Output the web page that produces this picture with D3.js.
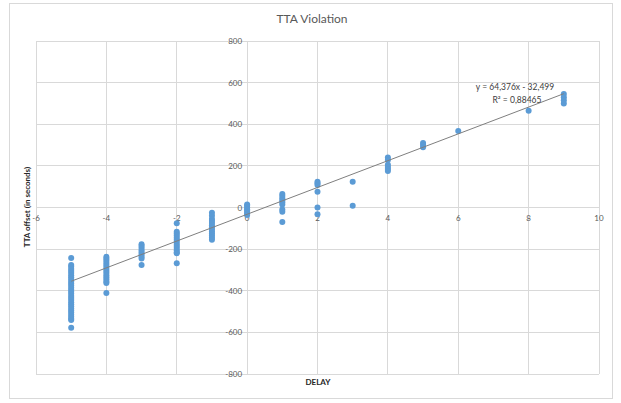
<!DOCTYPE html>
<html>
<head>
	<meta charset="utf-8">
	<title>TTA Violation</title>
	<style>
		body { margin: 0; background: #fff; }
		svg { font-family: Lato, "Open Sans", sans-serif; }
		.grid line { stroke: #d9d9d9; stroke-width: 1; shape-rendering: crispEdges; }
		.tick-label { font-size: 8px; fill: #595959; }
	</style>
</head>
<body>
<div id="chart"></div>
<script src="https://d3js.org/d3.v7.min.js"></script>
<script>
	// Data: one column of offsets per delay value
	var delays = [-5, -4, -3, -2, -1, 0, 1, 2, 3, 4, 5, 6, 8, 9];
	var offsets = [
		[-243, -276, -285, -295, -305, -315, -325, -335, -345, -355, -365, -375, -385, -395, -405, -415, -425, -435, -445, -455, -465, -475, -485, -495, -505, -515, -525, -535, -541, -578],
		[-237, -245, -255, -265, -275, -285, -295, -305, -315, -325, -335, -345, -355, -363, -411],
		[-177, -185, -195, -205, -215, -225, -235, -245, -276],
		[-76, -116, -125, -135, -145, -155, -165, -175, -185, -195, -205, -215, -220, -268],
		[-25, -40, -55, -65, -75, -85, -95, -105, -115, -125, -135, -145, -155],
		[15, 8, 0, -8, -15, -22, -30, -36],
		[65, 55, 45, 35, 25, 15, -10, -20, -70],
		[124, 116, 108, 76, 0, -33],
		[124, 9],
		[240, 228, 205, 195, 185, 175],
		[310, 300, 290],
		[367],
		[465],
		[545, 530, 515, 500]
	];
	var xTicks = [-6, -4, -2, 0, 2, 4, 6, 8, 10];
	var yTicks = [-800, -600, -400, -200, 0, 200, 400, 600, 800];
	var trend = {slope: 64.376, intercept: -32.499, r2: "0,88465", from: -5, to: 9};

	var W = 621, H = 403;
	var svg = d3.select("#chart").append("svg")
		.attr("width", W).attr("height", H);

	// outer chart frame
	svg.append("rect")
		.attr("x", 9.5).attr("y", 3.5)
		.attr("width", 603).attr("height", 395)
		.attr("fill", "#fff").attr("stroke", "#d9d9d9");

	var x = d3.scaleLinear().domain([-6, 10]).range([36, 599]);
	var y = d3.scaleLinear().domain([-800, 800]).range([374, 41]);

	// gridlines
	var grid = svg.append("g").attr("class", "grid");
	grid.selectAll(".v").data(xTicks).enter().append("line")
		.attr("x1", function(d) { return x(d); }).attr("x2", function(d) { return x(d); })
		.attr("y1", y(800)).attr("y2", y(-800));
	grid.selectAll(".h").data(yTicks).enter().append("line")
		.attr("y1", function(d) { return y(d); }).attr("y2", function(d) { return y(d); })
		.attr("x1", x(-6)).attr("x2", x(10));

	// tick labels (axes cross at 0,0)
	svg.selectAll(".xl").data(xTicks).enter().append("text")
		.attr("class", "tick-label")
		.attr("x", function(d) { return x(d); })
		.attr("y", y(0) + 13)
		.attr("text-anchor", "middle")
		.text(function(d) { return d; });
	svg.selectAll(".yl").data(yTicks).enter().append("text")
		.attr("class", "tick-label")
		.attr("x", x(0) - 5)
		.attr("y", function(d) { return y(d) + 3; })
		.attr("text-anchor", "end")
		.text(function(d) { return d; });

	// points
	var pts = [];
	delays.forEach(function(dl, i) {
		offsets[i].forEach(function(v) { pts.push({d: dl, v: v}); });
	});
	svg.selectAll("circle").data(pts).enter().append("circle")
		.attr("cx", function(p) { return x(p.d); })
		.attr("cy", function(p) { return y(p.v); })
		.attr("r", 3)
		.attr("fill", "#5b9bd5");

	// linear trendline
	svg.append("line")
		.attr("x1", x(trend.from)).attr("y1", y(trend.slope * trend.from + trend.intercept))
		.attr("x2", x(trend.to)).attr("y2", y(trend.slope * trend.to + trend.intercept))
		.attr("stroke", "#7f7f7f").attr("stroke-width", 1);

	svg.append("text")
		.attr("x", 515).attr("y", 90)
		.attr("text-anchor", "middle")
		.attr("font-size", 8.5).attr("fill", "#404040")
		.text("y = 64,376x - 32,499");
	svg.append("text")
		.attr("x", 517).attr("y", 103)
		.attr("text-anchor", "middle")
		.attr("font-size", 8.5).attr("fill", "#404040")
		.text("R² = 0,88465");

	// titles
	svg.append("text")
		.attr("x", 312).attr("y", 23)
		.attr("text-anchor", "middle")
		.attr("font-size", 12).attr("fill", "#595959")
		.text("TTA Violation");
	svg.append("text")
		.attr("x", 318).attr("y", 385)
		.attr("text-anchor", "middle")
		.attr("font-size", 8).attr("font-weight", "bold").attr("fill", "#262626")
		.text("DELAY");
	svg.append("text")
		.attr("transform", "translate(30,207)rotate(-90)")
		.attr("text-anchor", "middle")
		.attr("font-size", 8).attr("font-weight", "bold").attr("fill", "#262626")
		.text("TTA offset (in seconds)");
</script>
</body>
</html>
